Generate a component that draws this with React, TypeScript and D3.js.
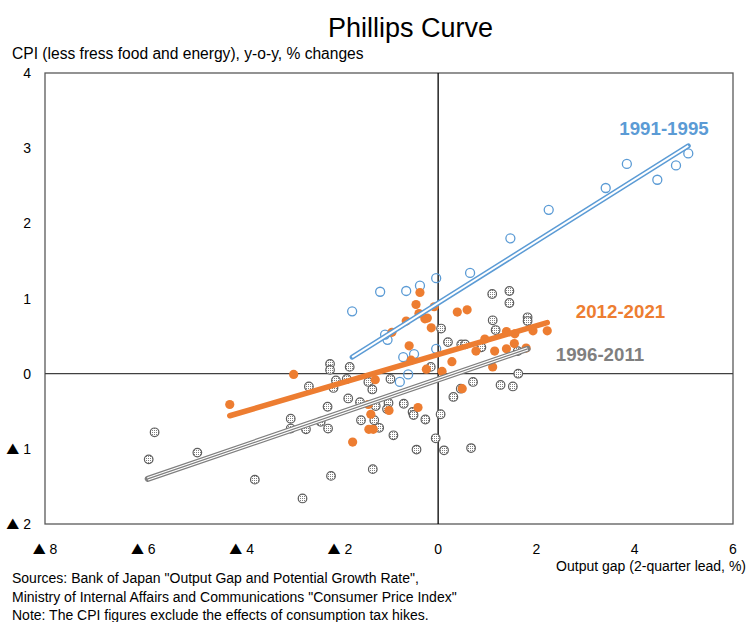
import React from "react";
import * as d3 from "d3";

const xTicks = [-8, -6, -4, -2, 0, 2, 4, 6];
const yTicks = [4, 3, 2, 1, 0, -1, -2];

// 1991-1995
const s9195x = [5.09, 4.84, 4.46, 3.84, 3.41, 2.25, 1.47, 0.65, -0.04, -0.37, -0.65, -1.18, -1.75, -1.08, -1.03, -0.71, -0.49, -0.04, -0.61, -0.78];
const s9195y = [2.93, 2.77, 2.58, 2.79, 2.47, 2.18, 1.8, 1.34, 1.27, 1.17, 1.1, 1.09, 0.83, 0.52, 0.45, 0.22, 0.26, 0.33, -0.01, -0.11];

// 2012-2021
const s1221x = [-0.37, -0.45, -0.39, -0.27, -0.22, -0.08, -0.65, -0.94, -0.14, 0.39, 0.59, -0.59, -0.55, -0.24, 0.08, 0.28, 0.77, 0.95, 1.15, 1.11, 1.39, 1.39, 1.55, 1.56, 1.79, 1.93, 2.22, 0.49, -1.28, -1.42, -1.37, -1.0, -0.41, -1.41, -1.32, -1.74, -2.94, -4.24];
const s1221y = [1.08, 0.92, 0.8, 0.73, 0.74, 0.89, 0.7, 0.55, 0.61, 0.82, 0.85, 0.37, 0.18, 0.06, 0.03, 0.16, 0.3, 0.46, 0.3, 0.09, 0.33, 0.56, 0.4, 0.53, 0.34, 0.57, 0.57, -0.2, -0.08, -0.41, -0.54, -0.49, -0.45, -0.74, -0.74, -0.91, -0.01, -0.41];

// 1996-2011
const s9611x = [-5.77, -5.89, -4.9, -3.73, -2.76, -2.18, -3.0, -3.0, -2.69, -2.39, -2.24, -2.25, -2.63, -2.2, -2.2, -2.13, -2.08, -1.86, -1.83, -1.8, -1.42, -1.34, -1.59, -1.01, -1.04, -1.27, -0.7, -0.52, -0.5, -0.97, -0.15, 0.06, 0.2, 0.47, 0.55, 0.88, 1.17, 1.11, 1.1, 1.45, 1.45, 1.82, 1.82, 1.62, 1.63, 1.27, 1.52, 0.71, 0.46, 0.31, 0.05, -0.26, -1.3, -1.57, -1.2, -0.91, -0.05, -0.44, 0.12, 0.67, -1.33];
const s9611y = [-0.78, -1.14, -1.05, -1.41, -1.66, -1.36, -0.6, -0.73, -0.74, -0.64, -0.73, -0.44, -0.17, 0.13, 0.05, -0.19, -0.09, -0.07, -0.33, 0.09, -0.11, -0.21, -0.38, -0.39, -0.47, -0.43, -0.4, -0.51, -0.55, -0.07, 0.09, 0.6, 0.42, 0.39, 0.39, 0.35, 0.58, 0.71, 1.06, 1.1, 0.94, 0.75, 0.7, 0.3, 0.0, -0.15, -0.17, -0.11, -0.2, -0.31, -0.54, -0.61, -0.62, -0.62, -0.72, -0.82, -0.86, -1.01, -1.02, -0.99, -1.27];

// trend lines: [x0, x1], [y0, y1]
const t9195x = [-1.75, 5.09];
const t9195y = [0.22, 3.03];
const t1221x = [-4.24, 2.22];
const t1221y = [-0.56, 0.68];
const t9611x = [-5.91, 1.82];
const t9611y = [-1.4, 0.33];

const BLUE = "#5B9BD5";
const ORANGE = "#ED7D31";
const GRAY = "#7F7F7F";
const FONT = "'Liberation Sans', Arial, sans-serif";
const CJK = "'Noto Sans CJK JP', sans-serif";

function TickLabel({ v }: { v: number }) {
  if (v < 0) {
    return (
      <>
        <tspan fontFamily={CJK} fontSize={13}>▲</tspan>
        <tspan> {Math.abs(v)}</tspan>
      </>
    );
  }
  return <>{v}</>;
}

export default function App() {
  const W = 749, H = 622;
  const x = d3.scaleLinear().domain([-8, 6]).range([45, 733]);
  const y = d3.scaleLinear().domain([-2, 4]).range([524, 73]);
  const line = d3.line<[number, number]>().x((d) => x(d[0])).y((d) => y(d[1]));
  const pts = (xs: number[], ys: number[]) => xs.map((v, i) => [v, ys[i]] as [number, number]);
  const tl = (xs: number[], ys: number[]) => line(pts(xs, ys)) as string;

  return (
    <svg width={W} height={H} style={{ position: "absolute", left: 0, top: 0 }} fontFamily={FONT}>
      <defs>
        <pattern id="dots" width="2" height="2" patternUnits="userSpaceOnUse">
          <rect width="2" height="2" fill="#fff" />
          <rect width="1" height="1" fill="#808080" />
        </pattern>
      </defs>
      <rect width={W} height={H} fill="#fff" />
      <text x={410.5} y={37} textAnchor="middle" fontSize={27} fill="#000">Phillips Curve</text>
      <text x={12} y={59} fontSize={15.6} fill="#000">CPI (less fress food and energy), y-o-y, % changes</text>

      <rect x={x(-8)} y={y(4)} width={x(6) - x(-8)} height={y(-2) - y(4)} fill="none" stroke="#595959" strokeWidth={1.3} />
      <line x1={x(-8)} x2={x(6)} y1={y(0)} y2={y(0)} stroke="#404040" strokeWidth={1.3} />
      <line x1={x(0)} x2={x(0)} y1={y(4)} y2={y(-2)} stroke="#000" strokeWidth={1.3} />

      {yTicks.map((t) => (
        <text key={"y" + t} x={31} y={y(t) + 5} textAnchor="end" fontSize={14} fill="#000"><TickLabel v={t} /></text>
      ))}
      {xTicks.map((t) => (
        <text key={"x" + t} x={x(t)} y={554} textAnchor="middle" fontSize={14} fill="#000"><TickLabel v={t} /></text>
      ))}
      <text x={746} y={571} textAnchor="end" fontSize={14} fill="#000">Output gap (2-quarter lead, %)</text>

      {pts(s9611x, s9611y).map((d, i) => (
        <circle key={"g" + i} cx={x(d[0])} cy={y(d[1])} r={4.3} fill="url(#dots)" stroke="#5f5f5f" strokeWidth={1.2} />
      ))}
      {pts(s9195x, s9195y).map((d, i) => (
        <circle key={"b" + i} cx={x(d[0])} cy={y(d[1])} r={4.5} fill="none" stroke={BLUE} strokeWidth={1.3} />
      ))}
      {pts(s1221x, s1221y).map((d, i) => (
        <circle key={"o" + i} cx={x(d[0])} cy={y(d[1])} r={4.6} fill={ORANGE} />
      ))}

      <path d={tl(t9611x, t9611y)} stroke={GRAY} strokeWidth={6} strokeLinecap="round" fill="none" />
      <path d={tl(t9611x, t9611y)} stroke="#fff" strokeWidth={3.6} fill="none" />
      <path d={tl(t9611x, t9611y)} stroke={GRAY} strokeWidth={1.2} fill="none" />

      <path d={tl(t9195x, t9195y)} stroke={BLUE} strokeWidth={5} strokeLinecap="round" fill="none" />
      <path d={tl(t9195x, t9195y)} stroke="#fff" strokeWidth={2} fill="none" />

      <path d={tl(t1221x, t1221y)} stroke={ORANGE} strokeWidth={5.5} strokeLinecap="round" fill="none" />

      <text x={664} y={134.5} textAnchor="middle" fontSize={18.7} fontWeight="bold" fill={BLUE}>1991-1995</text>
      <text x={620.5} y={318} textAnchor="middle" fontSize={18.7} fontWeight="bold" fill={ORANGE}>2012-2021</text>
      <text x={600} y={360.5} textAnchor="middle" fontSize={18.7} fontWeight="bold" fill={GRAY}>1996-2011</text>

      <text x={12} y={583} fontSize={14} fill="#000">Sources: Bank of Japan "Output Gap and Potential Growth Rate",</text>
      <text x={12} y={601.5} fontSize={14} fill="#000">Ministry of Internal Affairs and Communications "Consumer Price Index"</text>
      <text x={12} y={620} fontSize={14} fill="#000">Note: The CPI figures exclude the effects of consumption tax hikes.</text>
    </svg>
  );
}
